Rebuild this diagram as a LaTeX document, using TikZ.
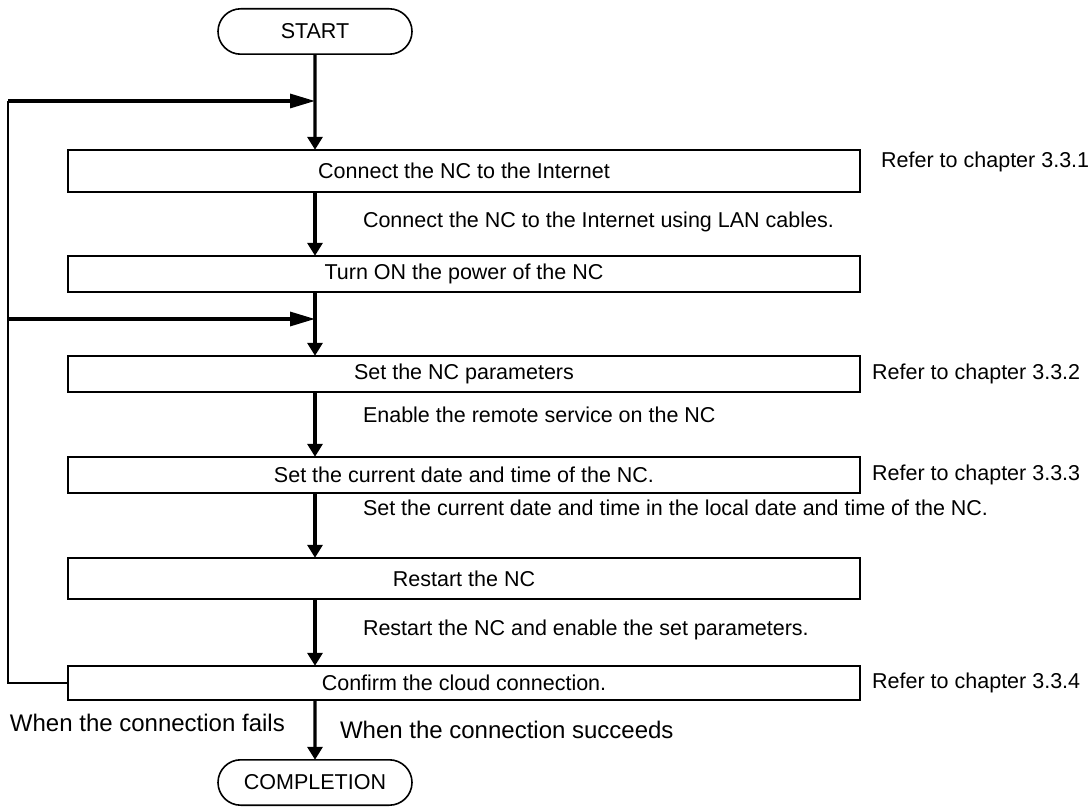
\documentclass[tikz,border=0pt]{standalone}
\usepackage{fontspec}
\setmainfont{Liberation Sans}
\usetikzlibrary{positioning, shapes.misc, arrows.meta}

\begin{document}
\begin{tikzpicture}[
    font=\fontsize{10.75}{13}\selectfont,
    outer sep=0pt,
    term/.style={draw, rounded rectangle, line width=0.8pt, minimum width=97pt, minimum height=22.7pt, inner sep=0pt},
    box/.style={draw, rectangle, line width=0.8pt, minimum width=396.2pt, inner sep=0pt},
    ref/.style={inner sep=0pt},
    note/.style={inner sep=0pt, anchor=base west},
    big/.style={font=\fontsize{12}{14}\selectfont},
    flow/.style={line width=1.6pt, -{Triangle[length=6.5pt, width=7.5pt]}},
    back/.style={line width=1.6pt, -{Triangle[length=12.5pt, width=7pt]}},
    ]
    \useasboundingbox (0,0) rectangle (545.5pt,-403.5pt);

    \node[term] (start) at (157.5pt,-15.75pt) {START};
    \node[box, minimum height=21.2pt, below=47.8pt of start, xshift=74.5pt] (s1) {Connect the NC to the Internet};
    \node[box, minimum height=18.2pt, below=31.8pt of s1] (s2) {Turn ON the power of the NC};
    \node[box, minimum height=18.2pt, below=31.8pt of s2] (s3) {Set the NC parameters};
    \node[box, minimum height=18.2pt, below=32.3pt of s3] (s4) {Set the current date and time of the NC.};
    \node[box, minimum height=20.7pt, below=32.3pt of s4] (s5) {Restart the NC};
    \node[box, minimum height=17.2pt, below=33.3pt of s5] (s6) {Confirm the cloud connection.};
    \node[term, below=29.8pt of s6, xshift=-74.5pt] (done) {COMPLETION};

    \node[ref, right=10.5pt of s1, yshift=4.5pt] (r1) {Refer to chapter 3.3.1};
    \node[ref, right=6pt of s3] (r2) {Refer to chapter 3.3.2};
    \node[ref, right=6pt of s4] (r3) {Refer to chapter 3.3.3};
    \node[ref, right=6pt of s6] (r4) {Refer to chapter 3.3.4};

    \node[note] (n1) at (181.5pt,-113.85pt) {Connect the NC to the Internet using LAN cables.};
    \node[note] (n2) at (181.5pt,-211.35pt) {Enable the remote service on the NC};
    \node[note] (n3) at (181.5pt,-257.85pt) {Set the current date and time in the local date and time of the NC.};
    \node[note] (n4) at (181.5pt,-317.85pt) {Restart the NC and enable the set parameters.};
    \node[note, big] (fail) at (5pt,-365.8pt) {When the connection fails};
    \node[note, big] (ok) at (170pt,-369.3pt) {When the connection succeeds};

    \coordinate (back1) at (4pt,-50.5pt);
    \coordinate (back2) at (4pt,-159.5pt);

    \draw
        (start) edge[flow] (s1.north -| start)
        (s1.south -| start) edge[flow] (s2.north -| start)
        (s2.south -| start) edge[flow] (s3.north -| start)
        (s3.south -| start) edge[flow] (s4.north -| start)
        (s4.south -| start) edge[flow] (s5.north -| start)
        (s5.south -| start) edge[flow] (s6.north -| start)
        (s6.south -| start) edge[flow] (done)
        ;

    \draw[line width=1pt] (s6.west) -| (back1);
    \draw
        (back1) edge[back] (back1 -| start)
        (back2) edge[back] (back2 -| start)
        ;
\end{tikzpicture}
\end{document}
